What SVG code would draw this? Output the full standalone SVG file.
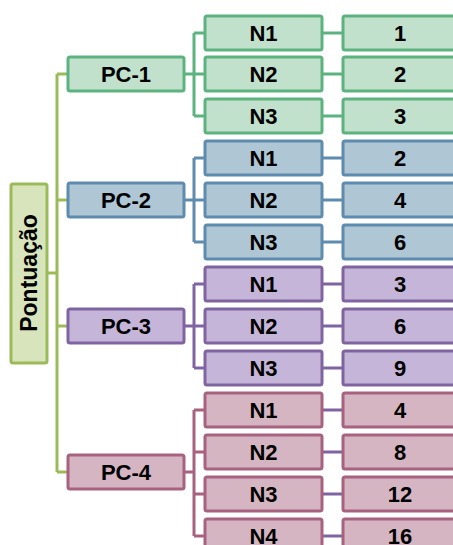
<svg xmlns="http://www.w3.org/2000/svg" width="453" height="545" viewBox="0 0 453 545">
  <style>
    text { font-family: "Liberation Sans", Arial, sans-serif; font-weight: bold; font-size: 22px; fill: #000; text-anchor: middle; dominant-baseline: central; }
    rect { stroke-width: 3; }
    .root { fill: #D8E4BC; stroke: #9BBB59; }
    .g { fill: #C2E1CC; stroke: #5DB37F; }
    .b { fill: #AFC6D4; stroke: #5F8BAE; }
    .p { fill: #C5B6D9; stroke: #8064A2; }
    .r { fill: #D6B5C2; stroke: #A6627F; }
    path { fill: none; stroke-width: 3; }
    .lroot { stroke: #9BBB59; }
    .lg { stroke: #5DB37F; }
    .lb { stroke: #5F8BAE; }
    .lp { stroke: #8064A2; }
    .lr { stroke: #A6627F; }
  </style>

  <!-- connectors -->
  <g id="connectors">
    <path class="lroot" d="M47 273 H57 M57 74 V472 M57 74 H68 M57 200 H68 M57 326 H68 M57 472 H68"/>
    <path class="lg" d="M184 74 H194 M194 33 V116 M194 33 H205 M194 74 H205 M194 116 H205 M322 33 H343 M322 74 H343 M322 116 H343"/>
    <path class="lb" d="M184 200 H194 M194 158 V242 M194 158 H205 M194 200 H205 M194 242 H205 M322 158 H343 M322 200 H343 M322 242 H343"/>
    <path class="lp" d="M184 326 H194 M194 284 V368 M194 284 H205 M194 326 H205 M194 368 H205 M322 284 H343 M322 326 H343 M322 368 H343"/>
    <path class="lr" d="M184 472 H194 M194 410 V536 M194 410 H205 M194 452 H205 M194 494 H205 M194 536 H205"/>
    <path class="lp" d="M322 410 H343 M322 452 H343 M322 494 H343 M322 536 H343"/>
  </g>

  <!-- root -->
  <g id="root">
    <rect class="root" x="11" y="184" width="36" height="179" rx="2"/>
    <text x="29" y="273" transform="rotate(-90 29 273)" style="font-size:23px">Pontuação</text>
  </g>

  <!-- PC-1 -->
  <g id="pc1">
    <rect class="g" x="68" y="57" width="116" height="34" rx="2"/>
    <text x="126" y="74">PC-1</text>
  </g>
  <g id="pc1-n1"><rect class="g" x="205" y="16" width="117" height="34" rx="2"/><text x="263.5" y="33">N1</text></g>
  <g id="pc1-n2"><rect class="g" x="205" y="57" width="117" height="34" rx="2"/><text x="263.5" y="74">N2</text></g>
  <g id="pc1-n3"><rect class="g" x="205" y="99" width="117" height="34" rx="2"/><text x="263.5" y="116">N3</text></g>
  <g id="pc1-v1"><rect class="g" x="343" y="16" width="117" height="34" rx="2"/><text x="400" y="33">1</text></g>
  <g id="pc1-v2"><rect class="g" x="343" y="57" width="117" height="34" rx="2"/><text x="400" y="74">2</text></g>
  <g id="pc1-v3"><rect class="g" x="343" y="99" width="117" height="34" rx="2"/><text x="400" y="116">3</text></g>

  <!-- PC-2 -->
  <g id="pc2">
    <rect class="b" x="68" y="183" width="116" height="34" rx="2"/>
    <text x="126" y="200">PC-2</text>
  </g>
  <g id="pc2-n1"><rect class="b" x="205" y="141" width="117" height="34" rx="2"/><text x="263.5" y="158">N1</text></g>
  <g id="pc2-n2"><rect class="b" x="205" y="183" width="117" height="34" rx="2"/><text x="263.5" y="200">N2</text></g>
  <g id="pc2-n3"><rect class="b" x="205" y="225" width="117" height="34" rx="2"/><text x="263.5" y="242">N3</text></g>
  <g id="pc2-v1"><rect class="b" x="343" y="141" width="117" height="34" rx="2"/><text x="400" y="158">2</text></g>
  <g id="pc2-v2"><rect class="b" x="343" y="183" width="117" height="34" rx="2"/><text x="400" y="200">4</text></g>
  <g id="pc2-v3"><rect class="b" x="343" y="225" width="117" height="34" rx="2"/><text x="400" y="242">6</text></g>

  <!-- PC-3 -->
  <g id="pc3">
    <rect class="p" x="68" y="309" width="116" height="34" rx="2"/>
    <text x="126" y="326">PC-3</text>
  </g>
  <g id="pc3-n1"><rect class="p" x="205" y="267" width="117" height="34" rx="2"/><text x="263.5" y="284">N1</text></g>
  <g id="pc3-n2"><rect class="p" x="205" y="309" width="117" height="34" rx="2"/><text x="263.5" y="326">N2</text></g>
  <g id="pc3-n3"><rect class="p" x="205" y="351" width="117" height="34" rx="2"/><text x="263.5" y="368">N3</text></g>
  <g id="pc3-v1"><rect class="p" x="343" y="267" width="117" height="34" rx="2"/><text x="400" y="284">3</text></g>
  <g id="pc3-v2"><rect class="p" x="343" y="309" width="117" height="34" rx="2"/><text x="400" y="326">6</text></g>
  <g id="pc3-v3"><rect class="p" x="343" y="351" width="117" height="34" rx="2"/><text x="400" y="368">9</text></g>

  <!-- PC-4 -->
  <g id="pc4">
    <rect class="r" x="68" y="455" width="116" height="34" rx="2"/>
    <text x="126" y="472">PC-4</text>
  </g>
  <g id="pc4-n1"><rect class="r" x="205" y="393" width="117" height="34" rx="2"/><text x="263.5" y="410">N1</text></g>
  <g id="pc4-n2"><rect class="r" x="205" y="435" width="117" height="34" rx="2"/><text x="263.5" y="452">N2</text></g>
  <g id="pc4-n3"><rect class="r" x="205" y="477" width="117" height="34" rx="2"/><text x="263.5" y="494">N3</text></g>
  <g id="pc4-n4"><rect class="r" x="205" y="519" width="117" height="34" rx="2"/><text x="263.5" y="536">N4</text></g>
  <g id="pc4-v1"><rect class="r" x="343" y="393" width="117" height="34" rx="2"/><text x="400" y="410">4</text></g>
  <g id="pc4-v2"><rect class="r" x="343" y="435" width="117" height="34" rx="2"/><text x="400" y="452">8</text></g>
  <g id="pc4-v3"><rect class="r" x="343" y="477" width="117" height="34" rx="2"/><text x="400" y="494">12</text></g>
  <g id="pc4-v4"><rect class="r" x="343" y="519" width="117" height="34" rx="2"/><text x="400" y="536">16</text></g>
</svg>
